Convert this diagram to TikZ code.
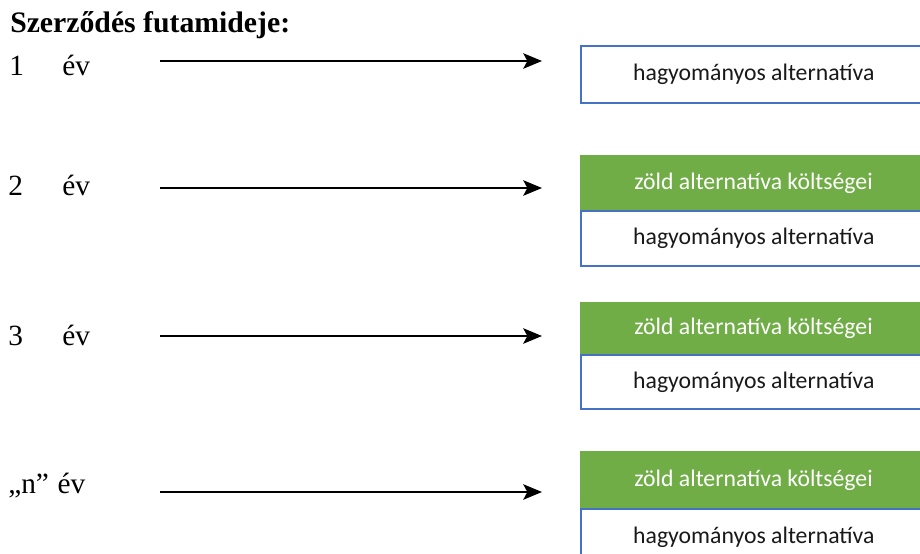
\documentclass[tikz,border=0pt]{standalone}
\usepackage{fontspec}
\setmainfont{Liberation Serif}
\newfontfamily\boxfont{Carlito}
\usetikzlibrary{arrows.meta}
\definecolor{boxblue}{HTML}{4472C4}
\definecolor{boxgreen}{HTML}{70AD47}
\begin{document}
\begin{tikzpicture}[x=0.75pt,y=-0.75pt,
  lab/.style={anchor=base west, inner sep=0pt, font=\fontsize{22}{24}\selectfont},
  ttl/.style={anchor=base west, inner sep=0pt, font=\fontsize{22.3}{24}\selectfont\bfseries},
  conn/.style={line width=1.8pt, -{Stealth[length=14pt,width=11.5pt,inset=3pt]}},
  greenbox/.style={anchor=north west, inner sep=0pt, minimum width=259.5pt,
    fill=boxgreen, draw=boxgreen, line width=0.8pt, text=white,
    font=\boxfont\fontsize{17.8}{20}\selectfont},
  whitebox/.style={anchor=north west, inner sep=0pt, minimum width=259.5pt,
    fill=white, draw=boxblue, line width=1.2pt, text=black!90,
    font=\boxfont\fontsize{17.8}{20}\selectfont}]
\useasboundingbox (0,0) rectangle (920,553);
\clip (0,0) rectangle (920,553);
\fill[white] (0,0) rectangle (920,553);

\node[ttl] (title) at (10,32) {Szerződés futamideje:};

% row labels
\node[lab] (n1) at (9,75) {1};
\node[lab] (e1) at (62,75) {év};
\node[lab] (n2) at (8,195) {2};
\node[lab] (e2) at (62,195) {év};
\node[lab] (n3) at (8,345) {3};
\node[lab] (e3) at (62,345) {év};
\node[lab] (nn) at (8,493) {„n”\hspace{6.5pt}év};

% boxes
\node[whitebox, minimum height=42.75pt] (h1) at (580,45) {hagyományos alternatíva};

\node[greenbox, minimum height=41.25pt] (g2) at (580,155) {zöld alternatíva költségei};
\node[whitebox, minimum height=41.25pt] (h2) at (580,210) {hagyományos alternatíva};

\node[greenbox, minimum height=39pt] (g3) at (580,302) {zöld alternatíva költségei};
\node[whitebox, minimum height=40.5pt] (h3) at (580,354) {hagyományos alternatíva};

\node[greenbox, minimum height=42.75pt] (gn) at (580,451) {zöld alternatíva költségei};
\node[whitebox, minimum height=42.75pt] (hn) at (580,508) {hagyományos alternatíva};

% arrows
\coordinate (s1) at (160,61);  \coordinate (t1) at (542,61);
\coordinate (s2) at (160,188); \coordinate (t2) at (542,188);
\coordinate (s3) at (160,336); \coordinate (t3) at (542,336);
\coordinate (sn) at (160,492); \coordinate (tn) at (542,492);
\draw[conn] (s1) -- (t1);
\draw[conn] (s2) -- (t2);
\draw[conn] (s3) -- (t3);
\draw[conn] (sn) -- (tn);
\end{tikzpicture}
\end{document}
